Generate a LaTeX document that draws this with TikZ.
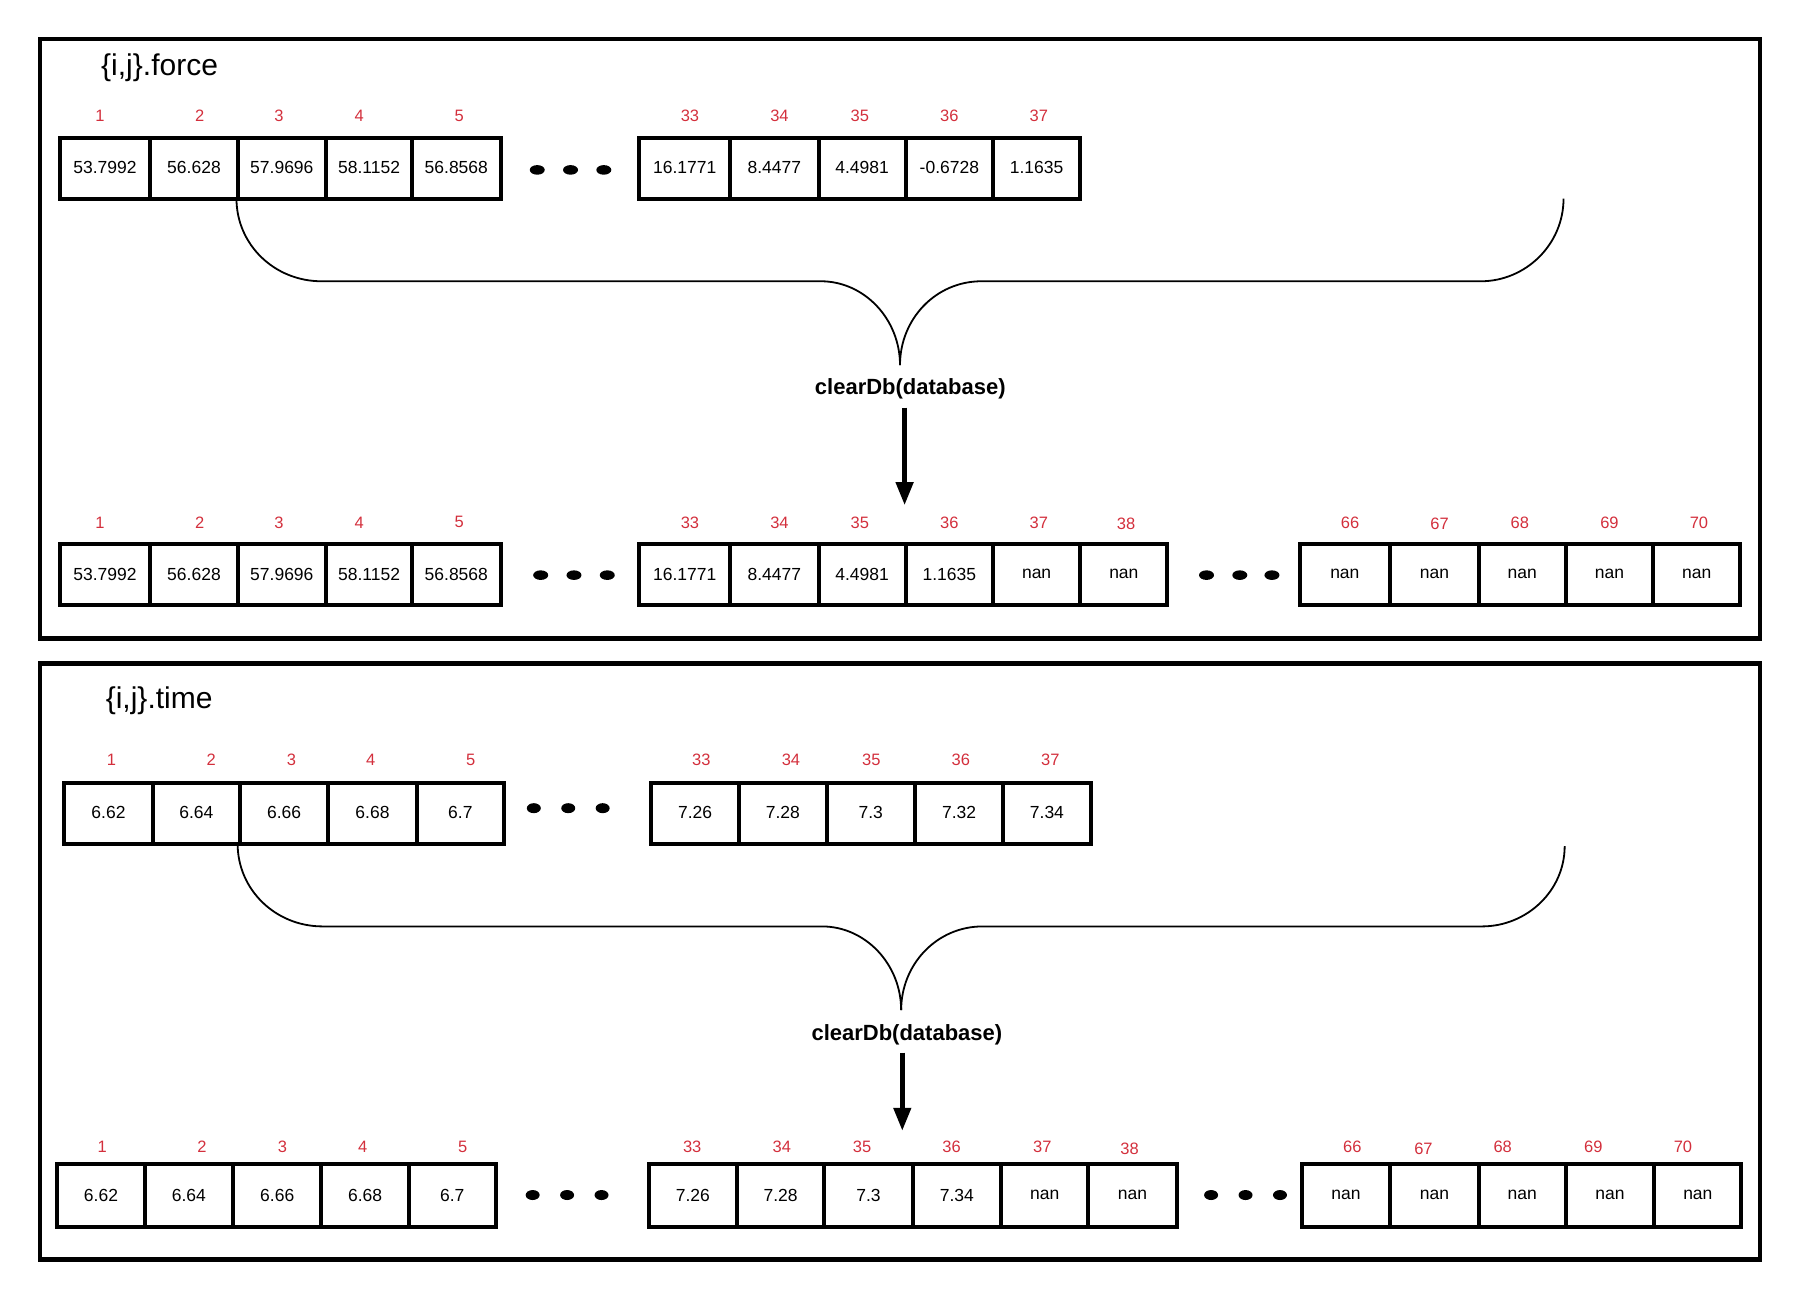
\documentclass[tikz,border=0pt]{standalone}
\usepackage{fontspec}
\setmainfont{Liberation Sans}
\usetikzlibrary{arrows.meta}
\definecolor{idxred}{HTML}{D32F3C}

% one row of array cells: #1 name prefix, #2 top, #3 bottom,
% #4 list of left/right/value/label x/label y/label
\newcommand{\cellrow}[4]{%
  \foreach \xa/\xb/\v/\lx/\ly/\l [count=\k] in {#4} {
    \draw[cellbox] (\xa,#2) rectangle (\xb,#3);
    \node[celltext] (#1v\k) at ({(\xa+\xb)/2},{(#2+#3)/2-0.5}) {\v};
    \node[idx] (#1i\k) at (\lx,\ly) {\l};
  }%
}

\begin{document}
\begin{tikzpicture}[x=1.148pt,y=-1.148pt,
  panel/.style={line width=4.5pt},
  cellbox/.style={line width=4pt},
  celltext/.style={font=\fontsize{17.5}{20}\selectfont, inner sep=0pt},
  idx/.style={font=\fontsize{16.5}{19}\selectfont, text=idxred, inner sep=0pt},
  title/.style={font=\fontsize{30}{34}\selectfont, anchor=west, inner sep=0pt},
  op/.style={font=\fontsize{22}{26}\selectfont\bfseries, inner sep=0pt},
  brace/.style={line width=1.8pt},
  flow/.style={line width=4.6pt, -{Triangle[length=23pt,width=17pt]}},
]
\useasboundingbox (0,0) rectangle (1568,1132);

% ---------------- force panel ----------------
\draw[panel] (35,34) rectangle (1533,556);
\node[title] (ftitle) at (88,59) {\{i,j\}.force};

\cellrow{fa}{120}{173}{52/131/53.7992/87/101/1, 131/207/56.628/174/101/2,
  207/284/57.9696/243/101/3, 284/359/58.1152/313/101/4, 359/436/56.8568/400/101/5}
\cellrow{fb}{120}{173}{557/636/16.1771/601/101/33, 636/713/8.4477/679/101/34,
  713/789/4.4981/749/101/35, 789/865/-0.6728/827/101/36, 865/941/1.1635/905/101/37}
\foreach \x in {468,497,526} \fill (\x,148) ellipse [x radius=7.5pt, y radius=4.8pt];

\coordinate (fbl) at (206,173);
\coordinate (fbr) at (1362,173);
\coordinate (fbm) at (784,318);
\draw[brace] (fbl) .. controls (206,213) and (239,245) .. (280,245) -- (715,245)
  .. controls (753,245) and (784,278) .. (fbm);
\draw[brace] (fbr) .. controls (1362,213) and (1329,245) .. (1290,245) -- (855,245)
  .. controls (815,245) and (784,278) .. (fbm);

\node[op] (fop) at (793,339) {clearDb(database)};
\coordinate (fas) at (788,355);
\coordinate (fae) at (788,440);
\draw[flow] (fas) -- (fae);

\cellrow{fc}{474}{527}{52/131/53.7992/87/455/1, 131/207/56.628/174/455/2,
  207/284/57.9696/243/455/3, 284/359/58.1152/313/455/4, 359/436/56.8568/400/455/5}
\cellrow{fd}{474}{527}{557/636/16.1771/601/455/33, 636/713/8.4477/679/455/34,
  713/789/4.4981/749/455/35, 789/865/1.1635/827/455/36, 865/941/nan/905/455/37,
  941/1017/nan/981/456.5/38}
\cellrow{fe}{474}{527}{1132/1211/nan/1176/455/66, 1211/1288/nan/1254/456.5/67,
  1288/1364/nan/1324/455/68, 1364/1440/nan/1402/455/69, 1440/1516/nan/1480/455/70}
\foreach \x in {471,500,529} \fill (\x,501) ellipse [x radius=7.5pt, y radius=4.8pt];
\foreach \x in {1051,1080,1108} \fill (\x,501) ellipse [x radius=7.5pt, y radius=4.8pt];

% ---------------- time panel ----------------
\draw[panel] (35,578) rectangle (1533,1097);
\node[title] (ttitle) at (92,610) {\{i,j\}.time};

\cellrow{ta}{682}{735}{56/133/6.62/97/662/1, 133/209/6.64/184/662/2,
  209/286/6.66/254/662/3, 286/363/6.68/323/662/4, 363/439/6.7/410/662/5}
\cellrow{tb}{682}{735}{567/644/7.26/611/662/33, 644/720/7.28/689/662/34,
  720/797/7.3/759/662/35, 797/874/7.32/837/662/36, 874/950/7.34/915/662/37}
\foreach \x in {465,495,525} \fill (\x,704) ellipse [x radius=7pt, y radius=5pt];

\coordinate (tbl) at (207,735);
\coordinate (tbr) at (1363,737);
\coordinate (tbm) at (785,880);
\draw[brace] (tbl) .. controls (207,775) and (240,807) .. (281,807) -- (716,807)
  .. controls (754,807) and (785,840) .. (tbm);
\draw[brace] (tbr) .. controls (1363,776) and (1330,807) .. (1291,807) -- (856,807)
  .. controls (816,807) and (785,840) .. (tbm);

\node[op] (top) at (790,901) {clearDb(database)};
\coordinate (tas) at (786,917);
\coordinate (tae) at (786,985);
\draw[flow] (tas) -- (tae);

\cellrow{tc}{1014}{1069}{50/126/6.62/89/999/1, 126/203/6.64/176/999/2,
  203/280/6.66/246/999/3, 280/356/6.68/316/999/4, 356/432/6.7/403/999/5}
\cellrow{td}{1014}{1069}{565/642/7.26/603/999/33, 642/718/7.28/681/999/34,
  718/795/7.3/751/999/35, 795/872/7.34/829/999/36, 872/948/nan/908/999/37,
  948/1025/nan/984/1000.5/38}
\cellrow{te}{1014}{1069}{1134/1211/nan/1178/999/66, 1211/1288/nan/1240/1000.5/67,
  1288/1364/nan/1309/999/68, 1364/1441/nan/1388/999/69, 1441/1517/nan/1466/999/70}
\foreach \x in {464,494,524} \fill (\x,1041) ellipse [x radius=7pt, y radius=5pt];
\foreach \x in {1055,1085,1115} \fill (\x,1041) ellipse [x radius=7pt, y radius=5pt];

\end{tikzpicture}
\end{document}
